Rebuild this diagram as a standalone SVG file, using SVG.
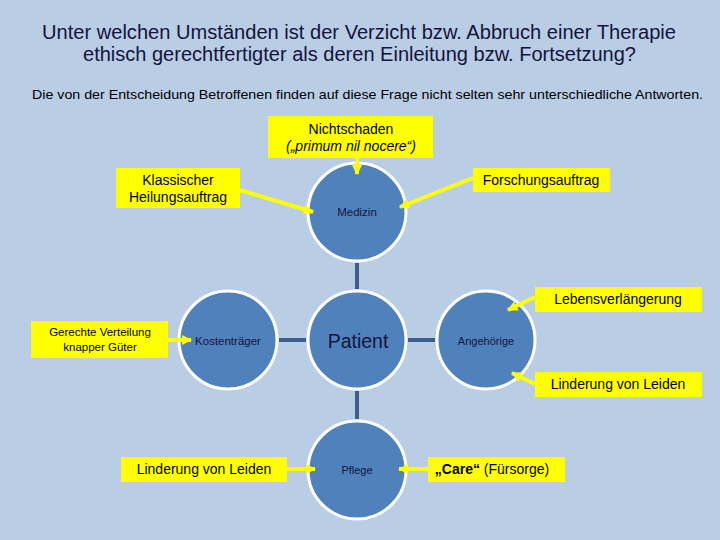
<svg xmlns="http://www.w3.org/2000/svg" width="720" height="540" viewBox="0 0 720 540">
<defs>
<marker id="ah" viewBox="0 0 10 10" refX="9" refY="5" markerWidth="2.6" markerHeight="2.6" orient="auto">
<path d="M0,0 L10,5 L0,10 Z" fill="#FFFF00"/>
</marker>
<style>
.bg{fill:#B9CDE5}
.title{font-family:"Liberation Sans",Arial,sans-serif;font-size:19.5px;fill:#14143C;text-anchor:middle}
.sub{font-family:"Liberation Sans",Arial,sans-serif;font-size:13.5px;fill:#000;text-anchor:middle}
.circ{fill:#4F81BD;stroke:#FFFFFF;stroke-width:3}
.ct{font-family:"Liberation Sans",Arial,sans-serif;fill:#14143C;text-anchor:middle;dominant-baseline:central}
.box{fill:#FFFF00}
.bt{font-family:"Liberation Sans",Arial,sans-serif;font-size:14px;fill:#000;text-anchor:middle}
.bt.small{font-size:11.5px}
.conn{stroke:#3B5E8C;stroke-width:4;fill:none}
.arr{stroke:#FFFF00;stroke-width:4;fill:none;marker-end:url(#ah)}
</style>
</defs>
<rect class="bg" x="0" y="0" width="720" height="540"/>
<g id="title">
<text class="title" x="359" y="39" textLength="634" lengthAdjust="spacingAndGlyphs">Unter welchen Umständen ist der Verzicht bzw. Abbruch einer Therapie</text>
<text class="title" x="359.5" y="61" textLength="553" lengthAdjust="spacingAndGlyphs">ethisch gerechtfertigter als deren Einleitung bzw. Fortsetzung?</text>
<text class="sub" x="367.5" y="99" textLength="671" lengthAdjust="spacingAndGlyphs">Die von der Entscheidung Betroffenen finden auf diese Frage nicht selten sehr unterschiedliche Antworten.</text>
</g>
<g id="medizin">
<circle class="circ" cx="357" cy="212" r="49"/>
<text class="ct" x="357" y="212" font-size="11.5">Medizin</text>
</g>
<g id="patient">
<circle class="circ" cx="357" cy="340" r="49"/>
<text class="ct" x="358" y="341" font-size="19.5">Patient</text>
</g>
<g id="kostentraeger">
<circle class="circ" cx="228" cy="340" r="49"/>
<text class="ct" x="228" y="341" font-size="11.5">Kostenträger</text>
</g>
<g id="angehoerige">
<circle class="circ" cx="486" cy="340" r="49"/>
<text class="ct" x="486" y="341" font-size="11">Angehörige</text>
</g>
<g id="pflege">
<circle class="circ" cx="357" cy="470" r="49"/>
<text class="ct" x="357" y="470" font-size="11">Pflege</text>
</g>
<g id="nichtschaden">
<rect class="box" x="268" y="116" width="165" height="42"/>
<text class="bt" x="351" y="134">Nichtschaden</text>
<text class="bt" x="351" y="151" font-style="italic">(„primum nil nocere“)</text>
</g>
<g id="klassisch">
<rect class="box" x="116" y="168" width="124" height="40"/>
<text class="bt" x="178" y="185">Klassischer</text>
<text class="bt" x="178" y="202">Heilungsauftrag</text>
</g>
<g id="forschung">
<rect class="box" x="473" y="168" width="137" height="24"/>
<text class="bt" x="541" y="185">Forschungsauftrag</text>
</g>
<g id="lebensverl">
<rect class="box" x="535" y="287" width="167" height="25"/>
<text class="bt" x="618" y="304">Lebensverlängerung</text>
</g>
<g id="linderung1">
<rect class="box" x="535" y="372" width="167" height="25"/>
<text class="bt" x="618" y="389">Linderung von Leiden</text>
</g>
<g id="gerecht">
<rect class="box" x="31" y="321" width="137" height="37"/>
<text class="bt small" x="100" y="336">Gerechte Verteilung</text>
<text class="bt small" x="100" y="351">knapper Güter</text>
</g>
<g id="linderung2">
<rect class="box" x="121" y="457" width="166" height="25"/>
<text class="bt" x="204" y="474">Linderung von Leiden</text>
</g>
<g id="care">
<rect class="box" x="428" y="457" width="137" height="25"/>
<text class="bt" x="492" y="474"><tspan font-weight="bold">„Care“</tspan> (Fürsorge)</text>
</g>
<g id="connectors">
<line class="conn" x1="357" y1="263" x2="357" y2="289"/>
<line class="conn" x1="279" y1="340" x2="306" y2="340"/>
<line class="conn" x1="408" y1="340" x2="435" y2="340"/>
<line class="conn" x1="357" y1="391" x2="357" y2="419"/>
<line class="arr" x1="357" y1="158" x2="357" y2="174"/>
<line class="arr" x1="240" y1="190" x2="313" y2="212"/>
<line class="arr" x1="473" y1="178" x2="400" y2="207"/>
<line class="arr" x1="535" y1="297" x2="508" y2="310"/>
<line class="arr" x1="535" y1="384" x2="512" y2="373"/>
<line class="arr" x1="168" y1="340" x2="191" y2="340"/>
<line class="arr" x1="287" y1="469" x2="315" y2="469"/>
<line class="arr" x1="428" y1="469" x2="399" y2="469"/>
</g>
</svg>
